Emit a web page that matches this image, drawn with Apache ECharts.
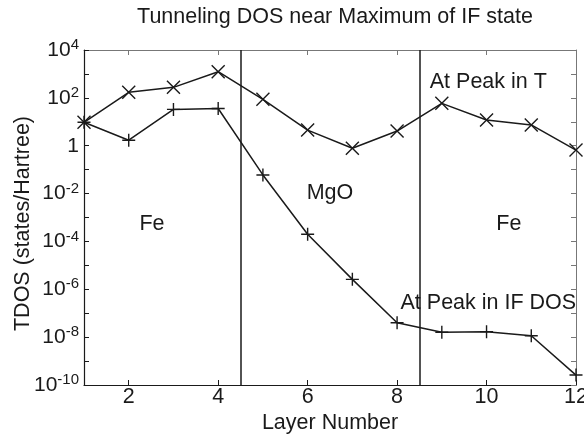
<!DOCTYPE html>
<html>
<head>
<meta charset="utf-8">
<script src="https://cdn.jsdelivr.net/npm/echarts@6/dist/echarts.min.js"></script>
<style>
  html, body { margin: 0; padding: 0; background: #fff; }
  #chart { width: 584px; height: 436px; }
</style>
</head>
<body>
<div id="chart"></div>
<script>
// layer numbers
const layers = [1, 2, 3, 4, 5, 6, 7, 8, 9, 10, 11, 12];
// TDOS at peak in T (x markers)
const peakT = [9.5, 170, 275, 1240, 87, 4.5, 0.78, 4.1, 59, 11.8, 7.4, 0.66];
// TDOS at peak in IF DOS (+ markers)
const peakIF = [9.5, 1.7, 33, 36, 0.06, 2e-4, 2.6e-6, 4e-8, 1.6e-8, 1.7e-8, 1.15e-8, 2.6e-10];
// region boundaries Fe | MgO | Fe
const boundaries = [4.5, 8.5];
const xTicks = [2, 4, 6, 8, 10, 12];
// text annotations [x, y, text]
const notes = [
  [2.52, 5.4e-4, 'Fe'],
  [6.5, 1.05e-2, 'MgO'],
  [10.5, 5.4e-4, 'Fe'],
  [10.04, 457, 'At Peak in T'],
  [10.04, 2.7e-7, 'At Peak in IF DOS']
];

const chart = echarts.init(document.getElementById('chart'));
const font = 'Liberation Sans, Arial, sans-serif';
const ink = '#1a1a1a';
const fs = 21.5;

const xMark = 'path://M0,0L10,10M10,0L0,10';
const plusMark = 'path://M5,0L5,10M0,5L10,5';

function pairs(ys) {
  return layers.map((x, i) => [x, ys[i]]);
}

function logLabel(v) {
  const e = Math.round(Math.log10(v));
  if (e % 2 !== 0) return '';
  if (e === 0) return '1';
  return '10{s|' + e + '}';
}

const option = {
  animation: false,
  title: {
    text: 'Tunneling DOS near Maximum of IF state',
    left: 330,
    top: 1,
    textAlign: 'center',
    textStyle: { fontFamily: font, fontSize: fs, fontWeight: 'normal', color: ink }
  },
  grid: { left: 84, right: 8, top: 50, bottom: 51, containLabel: false, outerBoundsMode: 'none' },
  xAxis: [
    {
      type: 'value', min: 1, max: 12, position: 'bottom',
      name: 'Layer Number', nameLocation: 'middle', nameGap: 27, nameMoveOverlap: false,
      nameTextStyle: { fontFamily: font, fontSize: fs, color: ink },
      axisLine: { lineStyle: { color: ink, width: 1.2 } },
      axisTick: { inside: true, length: 5, customValues: xTicks, lineStyle: { color: ink } },
      axisLabel: { customValues: xTicks, margin: 1, fontFamily: font, fontSize: fs, color: ink },
      splitLine: { show: false }
    },
    {
      type: 'value', min: 1, max: 12, position: 'top',
      axisLine: { lineStyle: { color: '#777', width: 1 } },
      axisTick: { inside: true, length: 5, customValues: xTicks, lineStyle: { color: '#777' } },
      axisLabel: { show: false },
      splitLine: { show: false }
    }
  ],
  yAxis: [
    {
      type: 'log', logBase: 10, min: 1e-10, max: 1e4, interval: 1, position: 'left',
      name: 'TDOS (states/Hartree)', nameLocation: 'middle', nameGap: 50, nameMoveOverlap: false,
      nameTextStyle: { fontFamily: font, fontSize: fs, color: ink, padding: [0, 12, 0, 0] },
      axisLine: { show: true, lineStyle: { color: ink, width: 1.2 } },
      axisTick: { inside: true, length: 5, lineStyle: { color: ink } },
      axisLabel: {
        formatter: logLabel, margin: 5, fontFamily: font, fontSize: 21, color: ink,
        rich: { s: { fontFamily: font, fontSize: 15, color: ink, verticalAlign: 'top', padding: [0, 0, 10, 0] } }
      },
      splitLine: { show: false }
    },
    {
      type: 'log', logBase: 10, min: 1e-10, max: 1e4, interval: 1, position: 'right',
      axisLine: { show: true, lineStyle: { color: '#777', width: 1 } },
      axisTick: { inside: true, length: 5, lineStyle: { color: '#777' } },
      axisLabel: { show: false },
      splitLine: { show: false }
    }
  ],
  series: [
    {
      name: 'At Peak in T', type: 'line', data: pairs(peakT),
      symbol: xMark, symbolSize: 13,
      lineStyle: { color: ink, width: 1.5 },
      itemStyle: { color: ink, borderColor: ink, borderWidth: 1.4 },
      markLine: {
        silent: true, symbol: 'none', label: { show: false },
        lineStyle: { color: ink, width: 1.5, type: 'solid' },
        data: boundaries.map(b => ({ xAxis: b }))
      }
    },
    {
      name: 'At Peak in IF DOS', type: 'line', data: pairs(peakIF),
      symbol: plusMark, symbolSize: 13,
      lineStyle: { color: ink, width: 1.5 },
      itemStyle: { color: ink, borderColor: ink, borderWidth: 1.4 },
      markPoint: {
        silent: true, symbol: 'circle', symbolSize: 0,
        label: { show: true, position: 'inside', fontFamily: font, fontSize: fs, color: ink, formatter: p => p.name },
        data: notes.map(n => ({ coord: [n[0], n[1]], name: n[2] }))
      }
    }
  ]
};
chart.setOption(option);
</script>
</body>
</html>
